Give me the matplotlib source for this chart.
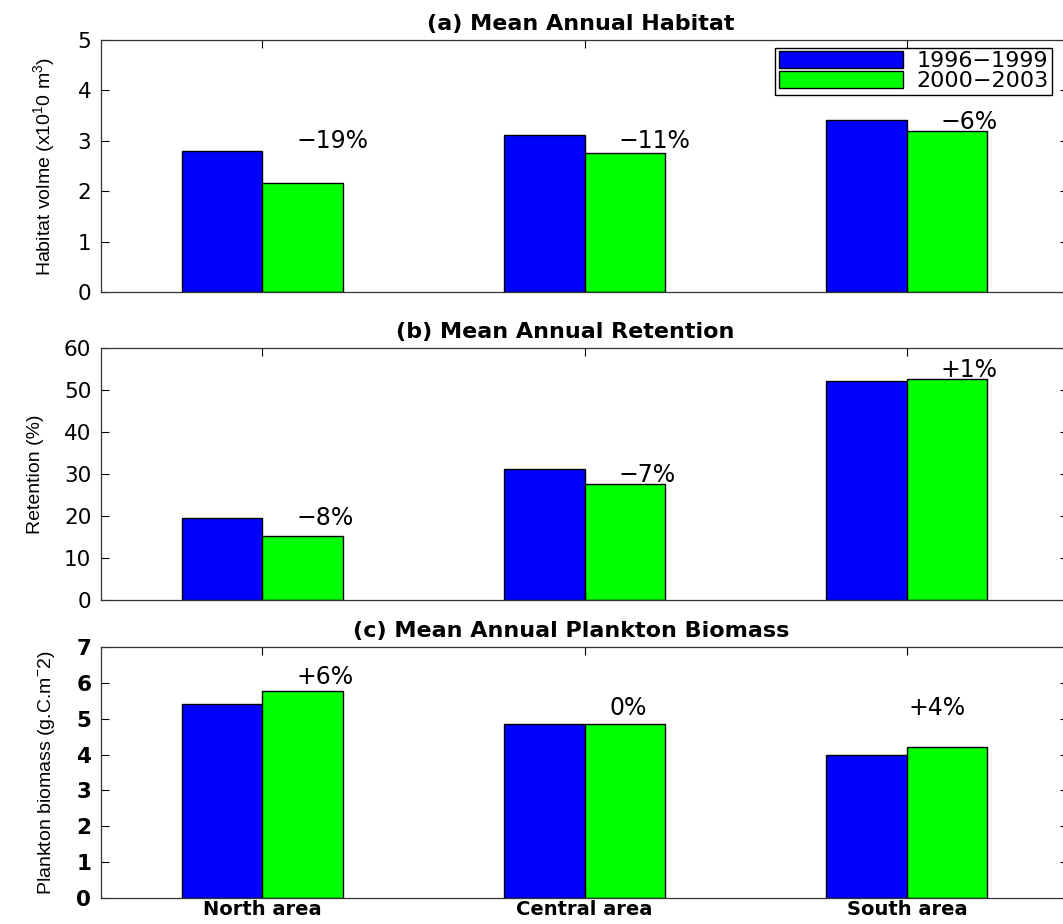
import matplotlib
matplotlib.use("Agg")
import matplotlib.pyplot as plt
from matplotlib import font_manager
import numpy as np

plt.rcParams['font.family'] = ['DejaVu Sans']
plt.rcParams['mathtext.fontset'] = 'custom'

categories = ["North area", "Central area", "South area"]
series_names = ["1996\u22121999", "2000\u22122003"]

habitat_9699 = [2.80, 3.11, 3.41]
habitat_0003 = [2.16, 2.76, 3.19]
habitat_labels = ["\u221219%", "\u221211%", "\u22126%"]

retention_9699 = [19.5, 31.2, 52.1]
retention_0003 = [15.2, 27.6, 52.7]
retention_labels = ["\u22128%", "\u22127%", "+1%"]

plankton_9699 = [5.40, 4.85, 3.99]
plankton_0003 = [5.76, 4.85, 4.21]
plankton_labels = ["+6%", "0%", "+4%"]

colors = ["#0000ff", "#00ff00"]

# pick a condensed family for the rotated y labels if one is installed
try:
    font_manager.findfont(font_manager.FontProperties(family="Liberation Sans Narrow"),
                          fallback_to_default=False)
    ylab_family = ["Liberation Sans Narrow", "DejaVu Sans"]
    ylab_size = 17
except Exception:
    ylab_family = ["Liberation Sans", "DejaVu Sans"]
    ylab_size = 14
plt.rcParams['mathtext.rm'] = ylab_family[0]

fig = plt.figure(figsize=(10.63, 9.24), dpi=100)
W, H = 1063, 924

def ax_rect(top, bottom, left=101, right=1068):
    return [left / W, (H - bottom) / H, (right - left) / W, (bottom - top) / H]

panels = [
    dict(rect=ax_rect(40, 292), a=habitat_9699, b=habitat_0003, labels=habitat_labels,
         ylim=(0, 5), yticks=np.arange(0, 6, 1), title="(a) Mean Annual Habitat",
         title_x=0.496, ylabel="Habitat volme (x10$^1$0 m$^3$)", bold_ticks=False,
         lab_y=[3.0, 3.0, 3.37], lab_dx=[0.105, 0.105, 0.105], labelpad=14),
    dict(rect=ax_rect(348, 600), a=retention_9699, b=retention_0003, labels=retention_labels,
         ylim=(0, 60), yticks=np.arange(0, 70, 10), title="(b) Mean Annual Retention",
         title_x=0.480, ylabel="Retention (%)", bold_ticks=False,
         lab_y=[19.5, 29.8, 54.8], lab_dx=[0.105, 0.105, 0.105], labelpad=14),
    dict(rect=ax_rect(647, 898), a=plankton_9699, b=plankton_0003, labels=plankton_labels,
         ylim=(0, 7), yticks=np.arange(0, 8, 1), title="(c) Mean Annual Plankton Biomass",
         title_x=0.486, ylabel="Plankton biomass (g.C.m$^{-}$2)", bold_ticks=True,
         lab_y=[6.16, 5.30, 5.30], lab_dx=[0.105, 0.077, 0.006], labelpad=14),
]

x = np.arange(1, len(categories) + 1)
bw = 0.25
for i, p in enumerate(panels):
    ax = fig.add_axes(p["rect"])
    b1 = ax.bar(x - bw / 2, p["a"], bw, color=colors[0], edgecolor="black", linewidth=1.0,
                label=series_names[0])
    b2 = ax.bar(x + bw / 2, p["b"], bw, color=colors[1], edgecolor="black", linewidth=1.0,
                label=series_names[1])
    for xi, lab, ly, dx in zip(x, p["labels"], p["lab_y"], p["lab_dx"]):
        ax.text(xi + dx, ly, lab, ha="left", va="center", fontsize=17)
    ax.set_xlim(0.5, 3.5)
    ax.set_ylim(*p["ylim"])
    ax.set_yticks(p["yticks"])
    ax.set_xticks(x)
    ax.tick_params(direction="in", length=6, width=0.8, top=True, right=True,
                   labelsize=15.5, pad=7, colors="black")
    if p["bold_ticks"]:
        for t in ax.get_yticklabels():
            t.set_fontweight("bold")
    if i == 2:
        ax.set_xticklabels(categories, fontsize=14, fontweight="bold")
        ax.tick_params(axis="x", pad=1.5)
    else:
        ax.set_xticklabels([])
    for s in ax.spines.values():
        s.set_linewidth(0.9)
        s.set_color("#333333")
    ax.set_title(p["title"], fontsize=16, fontweight="bold", pad=7, x=p["title_x"])
    ax.set_ylabel(p["ylabel"], fontsize=ylab_size, family=ylab_family, labelpad=p["labelpad"])
    if i == 0:
        fig.legend(handles=[b1, b2], labels=series_names, loc="upper right",
                   bbox_to_anchor=(1052 / W, 1 - 48 / H), fontsize=16, frameon=True,
                   fancybox=False, edgecolor="black", framealpha=1,
                   handlelength=5.6, handleheight=0.75, borderpad=0.15, labelspacing=0.0,
                   handletextpad=0.6, borderaxespad=0)

fig.savefig("out.png", dpi=100)
